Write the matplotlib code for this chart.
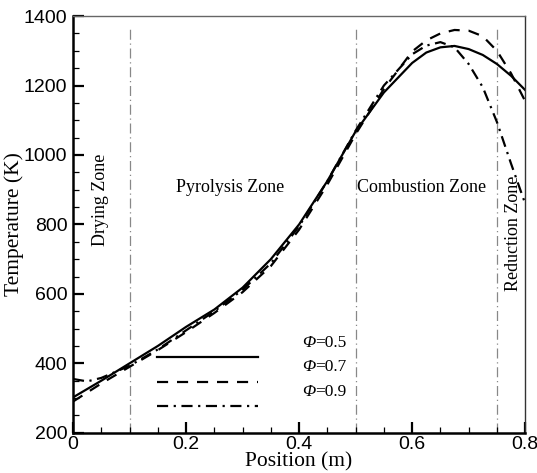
import matplotlib
matplotlib.use("Agg")
import matplotlib.pyplot as plt
from matplotlib.ticker import MultipleLocator

# Temperature profiles along the gasifier
pos = [0, 0.05, 0.1, 0.15, 0.2, 0.25, 0.3, 0.35, 0.4, 0.45, 0.5,
       0.55, 0.6, 0.625, 0.65, 0.675, 0.7, 0.725, 0.75, 0.775, 0.8]
t_05 = [302, 350, 400, 450, 505, 555, 618, 700, 800, 925, 1068,
        1180, 1265, 1295, 1310, 1314, 1305, 1288, 1262, 1228, 1187]
t_07 = [290, 342, 390, 438, 490, 545, 605, 680, 785, 915, 1060,
        1190, 1298, 1330, 1350, 1360, 1358, 1342, 1300, 1235, 1155]
pos_09 = [0, 0.025, 0.05, 0.1, 0.15, 0.2, 0.25, 0.3, 0.35, 0.4, 0.45, 0.5,
          0.55, 0.6, 0.625, 0.65, 0.675, 0.7, 0.725, 0.75, 0.775, 0.8]
t_09 = [355, 348, 358, 393, 440, 495, 550, 612, 688, 795, 925, 1070,
        1200, 1290, 1315, 1325, 1310, 1262, 1195, 1095, 975, 860]

zone_edges = [0.1, 0.5, 0.75]
phi_values = ["0.5", "0.7", "0.9"]

serif = "Liberation Serif"
sans = "Liberation Sans"

fig = plt.figure(figsize=(5.37, 4.73), dpi=100)
ax = fig.add_axes([0.136, 0.085, 0.842, 0.881])

ax.plot(pos, t_05, color="black", lw=1.6, ls="-")
ax.plot(pos, t_07, color="black", lw=1.6, ls=(0, (5, 4)))
ax.plot(pos_09, t_09, color="black", lw=1.6, ls=(0, (5, 2.5, 1, 2.5)))

# zone boundaries
for xe in zone_edges:
    ax.plot([xe, xe], [200, 1365], color="#888888", lw=0.9,
            ls=(0, (8, 3, 1, 3)), zorder=1)

ax.text(0.048, 870, "Drying Zone", rotation=90, ha="center", va="center",
        family=serif, fontsize=13)
ax.text(0.278, 905, "Pyrolysis Zone", ha="center", va="center",
        family=serif, fontsize=13)
ax.text(0.503, 905, "Combustion Zone", ha="left", va="center",
        family=serif, fontsize=13)
ax.text(0.779, 775, "Reduction Zone", rotation=90, ha="center", va="center",
        family=serif, fontsize=13)

# hand-made legend
styles = ["-", (0, (5, 4)), (0, (5, 2.5, 1, 2.5))]
line_y = [419, 347, 278]
text_y = [459, 390, 318]
for st, ly, ty, val in zip(styles, line_y, text_y, phi_values):
    ax.plot([0.149, 0.327], [ly, ly], color="black", lw=1.6, ls=st)
    ax.text(0.428, ty, "\u03a6", ha="right", va="center", family=serif,
            fontsize=12.5, style="italic")
    ax.text(0.428, ty, "=" + val, ha="left", va="center", family=serif,
            fontsize=12.5)

ax.set_xlim(0, 0.8)
ax.set_ylim(200, 1400)
ax.xaxis.set_major_locator(MultipleLocator(0.2))
ax.xaxis.set_minor_locator(MultipleLocator(0.05))
ax.yaxis.set_major_locator(MultipleLocator(200))
ax.yaxis.set_minor_locator(MultipleLocator(50))
ax.set_xticks([0, 0.2, 0.4, 0.6, 0.8])
ax.set_xticklabels(["0", "0.2", "0.4", "0.6", "0.8"])

ax.tick_params(which="major", direction="in", length=8, width=1.6,
               labelsize=14, top=False, right=False)
ax.tick_params(which="minor", direction="in", length=4.5, width=0.9,
               top=False, right=False)
ax.tick_params(axis="x", pad=2)
ax.tick_params(axis="y", pad=4)
for lab in ax.get_xticklabels() + ax.get_yticklabels():
    lab.set_family(sans)

for side in ["left", "bottom"]:
    ax.spines[side].set_linewidth(1.8)
ax.spines["top"].set_linewidth(1.0)
ax.spines["top"].set_color("#666666")
ax.spines["right"].set_linewidth(1.0)
ax.spines["right"].set_color("#333333")

ax.set_xlabel("Position (m)", family=serif, fontsize=15.5, labelpad=0)
ax.set_ylabel("Temperature (K)", family=serif, fontsize=15.5, labelpad=0)

fig.savefig("out.png", dpi=100)
